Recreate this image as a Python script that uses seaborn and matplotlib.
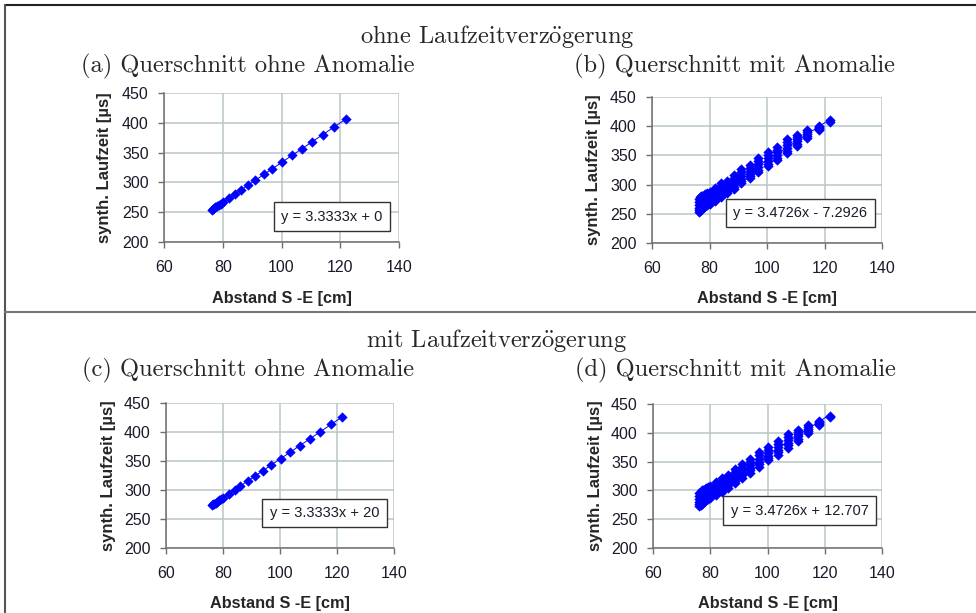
"""
Laufzeit gegen Abstand S-E: vier Querschnitte (mit/ohne Anomalie,
mit/ohne Laufzeitverzögerung).
"""

import matplotlib
matplotlib.use("Agg")
import matplotlib.pyplot as plt
from matplotlib.lines import Line2D
import pandas as pd
import seaborn as sns

# ---------------------------------------------------------------------------
# Daten
# ---------------------------------------------------------------------------
abstand = [76.2, 76.6, 77.0, 77.5, 78.0, 78.6, 79.3, 80.0, 82.0, 84.1, 86.1,
           88.6, 91.1, 94.0, 96.9, 100.3, 103.6, 107.0, 110.5, 114.0, 118.0, 121.8]

# (a) ohne Anomalie, ohne Verzögerung
laufzeit_a = [254.0, 255.3, 256.7, 258.3, 260.0, 262.0, 264.3, 266.7, 273.3, 280.3, 287.0,
              295.3, 303.7, 313.3, 323.0, 334.3, 345.3, 356.7, 368.3, 380.0, 393.3, 406.0]

# (c) ohne Anomalie, mit Verzögerung
laufzeit_c = [274.0, 275.3, 276.7, 278.3, 280.0, 282.0, 284.3, 286.7, 293.3, 300.3, 307.0,
              315.3, 323.7, 333.3, 343.0, 354.3, 365.3, 376.7, 388.3, 400.0, 413.3, 426.0]

# (b) mit Anomalie, ohne Verzögerung -- mehrere Laufzeiten je Abstand
laufzeit_b = [
    [253, 256, 260, 265, 270, 276],
    [255, 258, 262, 267, 272, 278],
    [257, 260, 264, 269, 274, 280],
    [259, 262, 266, 271, 276, 281],
    [261, 264, 268, 273, 278, 282],
    [263, 266, 270, 275, 280, 284],
    [265, 268, 272, 277, 282, 286],
    [267, 270, 274, 279, 284, 288],
    [272, 276, 280, 285, 290, 295],
    [278, 282, 287, 292, 297, 302],
    [285, 289, 293, 298, 303, 307],
    [292, 296, 301, 306, 312, 317],
    [302, 306, 310, 315, 321, 326],
    [311, 315, 319, 324, 329, 334],
    [321, 325, 330, 335, 341, 346],
    [332, 336, 340, 345, 351, 356],
    [342, 346, 350, 355, 360, 365],
    [354, 358, 362, 367, 373, 378],
    [366, 370, 374, 378, 382, 385],
    [380, 383, 387, 390, 393],
    [393, 395, 397, 399, 401],
    [408, 410],
]

# (d) mit Anomalie, mit Verzögerung
laufzeit_d = [
    [273, 276, 280, 285, 290, 296],
    [275, 278, 282, 287, 292, 298],
    [277, 280, 284, 289, 294, 300],
    [279, 282, 286, 291, 296, 301],
    [281, 284, 288, 293, 298, 302],
    [283, 286, 290, 295, 300, 304],
    [285, 288, 292, 297, 302, 306],
    [287, 290, 294, 299, 304, 308],
    [292, 296, 300, 305, 310, 315],
    [298, 302, 307, 312, 317, 322],
    [305, 309, 313, 318, 323, 327],
    [312, 316, 321, 326, 332, 337],
    [322, 326, 330, 335, 341, 346],
    [331, 335, 339, 344, 349, 354],
    [341, 345, 350, 355, 361, 366],
    [352, 356, 360, 365, 371, 376],
    [362, 366, 370, 375, 380, 385],
    [374, 378, 382, 387, 393, 398],
    [386, 390, 394, 398, 402, 405],
    [400, 403, 407, 410, 413],
    [413, 415, 417, 419, 421],
    [428, 430],
]

gleichungen = ["y = 3.3333x + 0", "y = 3.4726x - 7.2926",
               "y = 3.3333x + 20", "y = 3.4726x + 12.707"]
titel_panels = ["(a) Querschnitt ohne Anomalie", "(b) Querschnitt mit Anomalie",
                "(c) Querschnitt ohne Anomalie", "(d) Querschnitt mit Anomalie"]
# das ö kommt über mathtext (cmr10 hat kein ö)
titel_zeilen = [r"ohne Laufzeitverz$\ddot{\mathrm{o}}$gerung",
                r"mit Laufzeitverz$\ddot{\mathrm{o}}$gerung"]
x_ticks = [60, 80, 100, 120, 140]
y_ticks = [200, 250, 300, 350, 400, 450]


def einzeln(xs, ys):
    return pd.DataFrame({"abstand": xs, "laufzeit": ys})


def gruppiert(xs, ylists):
    rows = [(x, y) for x, ys in zip(xs, ylists) for y in ys]
    return pd.DataFrame(rows, columns=["abstand", "laufzeit"])


frames = [einzeln(abstand, laufzeit_a), gruppiert(abstand, laufzeit_b),
          einzeln(abstand, laufzeit_c), gruppiert(abstand, laufzeit_d)]

# ---------------------------------------------------------------------------
# Stil
# ---------------------------------------------------------------------------
sns.set_style("whitegrid", {"grid.color": "#b9c6c6", "axes.edgecolor": "#7a7a7a"})
plt.rcParams["font.family"] = ["Liberation Sans", "DejaVu Sans"]
plt.rcParams["mathtext.fontset"] = "cm"
SERIF = ["cmr10", "DejaVu Serif"]
BLAU = "#0000ff"
TXT = "#1a1a2a"

W, H = 976, 613
fig = plt.figure(figsize=(W / 100, H / 100), dpi=100)

# Achsenpositionen in Pixeln: links, rechts, oben, unten
boxen = [(164, 399, 93, 242), (652, 882, 97, 243),
         (166, 394, 403, 548), (653, 882, 404, 548)]
eq_pos = [(0.715, 0.17), (0.645, 0.205), (0.695, 0.24), (0.64, 0.26)]

for i, (l, r, t, b) in enumerate(boxen):
    ax = fig.add_axes([l / W, 1 - b / H, (r - l) / W, (b - t) / H])
    df = frames[i]
    sns.regplot(data=df, x="abstand", y="laufzeit", scatter=False, ci=None,
                truncate=True, ax=ax, line_kws={"color": BLAU, "lw": 0.7})
    sns.scatterplot(data=df, x="abstand", y="laufzeit", marker="D", s=24,
                    color=BLAU, edgecolor=BLAU, linewidth=0.3, ax=ax, zorder=3)
    ax.set_xlim(60, 140)
    ax.set_ylim(200, 450)
    ax.set_xticks(x_ticks)
    ax.set_yticks(y_ticks)
    ax.grid(True, lw=1.1)
    for side in ["top", "right"]:
        ax.spines[side].set_visible(False)
    for side in ["left", "bottom"]:
        ax.spines[side].set_color("#6e6e6e")
        ax.spines[side].set_linewidth(1.1)
    ax.tick_params(axis="both", direction="out", length=4, width=1, color="#6e6e6e",
                   labelsize=11.5, labelcolor=TXT, left=True, bottom=True)
    ax.tick_params(axis="y", pad=7)
    ax.tick_params(axis="x", pad=9)
    ax.set_xlabel("Abstand S -E [cm]", fontsize=11.7, fontweight="bold")
    ax.set_ylabel("synth. Laufzeit [µs]", fontsize=12, fontweight="bold")
    ax.xaxis.set_label_coords(0.5, -0.33)
    ax.yaxis.set_label_coords(-0.22, 0.5)
    ex, ey = eq_pos[i]
    ax.text(ex, ey, gleichungen[i], transform=ax.transAxes, ha="center", va="center",
            fontsize=10.5, color=TXT, zorder=5,
            bbox=dict(boxstyle="square,pad=0.5", fc="white", ec="#333333", lw=1))

# Überschriften
for text, y in zip(titel_zeilen, [37, 341]):
    fig.text(497 / W, 1 - y / H, text, ha="center", va="center", fontsize=17.6, family=SERIF)
for j, text in enumerate(titel_panels):
    x = 248 if j % 2 == 0 else 735
    y = 66 if j < 2 else 370
    fig.text(x / W, 1 - y / H, text, ha="center", va="center", fontsize=17.6, family=SERIF)

# Rahmenlinien
fig.add_artist(Line2D([5 / W, 1], [1 - 5 / H, 1 - 5 / H], transform=fig.transFigure,
                      color="#222222", lw=1.5))
fig.add_artist(Line2D([5 / W, 5 / W], [0, 1 - 5 / H], transform=fig.transFigure,
                      color="#555555", lw=1.5))
fig.add_artist(Line2D([5 / W, 1], [1 - 312 / H, 1 - 312 / H], transform=fig.transFigure,
                      color="#777777", lw=1.5))

fig.savefig("out.png", dpi=100)
